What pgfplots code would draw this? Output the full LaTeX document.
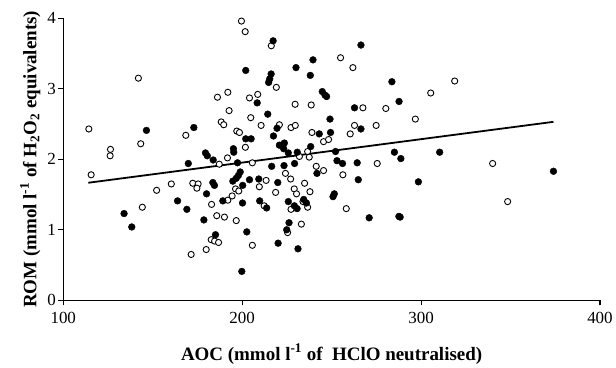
\documentclass[border=0pt]{standalone}
\usepackage{pgfplots}
\pgfplotsset{compat=1.18}
\usepackage{fontspec}
\setmainfont{Liberation Serif}
\begin{document}
\begin{tikzpicture}
\begin{axis}[
  scale only axis,
  width=538bp, height=282.7bp,
  xmin=100, xmax=400, ymin=0, ymax=4,
  axis x line*=bottom, axis y line*=left,
  axis line style={line width=1.1bp},
  xtick={100,200,300,400}, ytick={0,1,2,3,4},
  tick align=outside, major tick length=5bp,
  tick style={line width=1.1bp, black},
  /pgf/number format/assume math mode=true,
  ticklabel style={font=\fontsize{17bp}{20bp}\selectfont},
  xticklabel style={yshift=-3bp},
  yticklabel style={xshift=1bp},
  label style={font=\fontsize{19bp}{22bp}\selectfont\bfseries},
  xlabel={AOC (mmol l\textsuperscript{-1} of\ \ HClO neutralised)},
  ylabel={ROM (mmol l\textsuperscript{-1} of H\textsubscript{2}O\textsubscript{2} equivalents)},
  xlabel style={yshift=-14bp},
  ylabel style={yshift=0bp},
  clip=false,
]
% open circles
\addplot[only marks, mark=*, mark size=3.1bp, mark options={fill=white, draw=black, line width=0.9bp}] coordinates {
(114.3,2.43)(115.6,1.78)(126.4,2.14)(126.2,2.05)(199.6,3.96)(201.7,3.81)(216.3,3.61)
(142.0,3.15)(186.2,2.88)(192.0,2.95)(204.1,2.87)(208.7,2.92)(192.7,2.69)(168.5,2.34)
(188.3,2.53)(189.7,2.49)(204.8,2.59)(210.6,2.48)(197.0,2.40)(198.5,2.38)(143.3,2.22)
(201.8,2.17)(191.8,2.02)(187.2,1.93)(205.7,1.95)(160.4,1.65)(172.4,1.66)(175.4,1.65)
(174.7,1.59)(213.4,1.70)(152.2,1.56)(144.2,1.32)(182.9,1.36)(185.8,1.20)(190.1,1.18)
(196.7,1.13)(182.7,0.86)(184.6,0.84)(186.8,0.82)(179.9,0.72)(171.5,0.65)(205.7,0.78)
(192.0,1.42)(194.4,1.48)(196.3,1.58)(198.1,1.55)(209.6,1.61)(212.3,1.34)(218.7,1.53)
(219.1,3.02)(255.0,3.44)(261.9,3.30)(229.6,2.78)(238.6,2.77)(267.5,2.73)(280.3,2.72)
(296.8,2.57)(220.8,2.49)(227.3,2.45)(229.7,2.48)(239.0,2.38)(262.8,2.48)(274.9,2.48)
(260.4,2.36)(245.5,2.25)(248.3,2.28)(236.6,2.11)(232.0,2.04)(237.5,2.03)(275.5,1.94)
(224.2,1.80)(227.1,1.72)(241.4,1.90)(245.5,1.84)(256.3,1.78)(234.9,1.66)(318.8,3.11)
(305.4,2.94)(340.0,1.94)(348.4,1.40)(229.1,1.58)(230.4,1.51)(237.9,1.54)(227.3,1.29)
(234.0,1.40)(236.6,1.32)(258.2,1.30)(225.4,0.96)(233.1,1.08)
};
% filled circles
\addplot[only marks, mark=*, mark size=3.4bp, mark options={fill=black, draw=black}] coordinates {
(202.0,3.26)(208.4,2.80)(214.3,2.64)(146.5,2.41)(173.0,2.45)(202.0,2.29)(205.0,2.29)
(195.1,2.15)(195.3,2.10)(179.5,2.09)(180.5,2.05)(183.8,1.99)(197.4,1.95)(169.9,1.94)
(198.9,1.82)(197.9,1.77)(194.8,1.69)(183.6,1.67)(204.1,1.71)(209.3,1.72)(184.5,1.63)
(180.1,1.51)(163.9,1.41)(169.1,1.29)(134.0,1.23)(138.3,1.04)(178.6,1.14)(185.1,0.93)
(199.8,0.41)(202.6,0.97)(200.2,1.38)(189.2,1.41)(196.7,1.73)(200.3,1.63)(209.8,1.41)
(213.7,1.31)(216.5,1.90)(219.9,1.67)(220.1,0.81)(217.3,3.68)(216.2,3.21)(215.4,3.14)
(214.8,3.09)(219.5,2.44)(217.5,2.33)(220.8,2.20)(266.4,3.62)(239.6,3.41)(230.1,3.30)
(238.1,3.19)(283.7,3.10)(244.8,2.96)(246.3,2.91)(247.2,2.89)(262.8,2.73)(287.7,2.82)
(249.1,2.57)(249.4,2.38)(243.1,2.36)(266.4,2.43)(221.9,2.20)(223.6,2.23)(223.2,2.15)
(225.8,2.09)(238.3,2.18)(230.8,2.10)(252.2,2.11)(285.1,2.10)(288.7,2.01)(253.0,1.98)
(256.1,1.94)(264.3,1.95)(223.4,1.91)(229.3,1.94)(241.8,1.80)(264.9,1.71)(298.5,1.68)
(310.4,2.10)(374.0,1.83)(288.3,1.18)(225.8,1.40)(229.2,1.34)(230.7,1.30)(234.4,1.43)
(235.9,1.38)(251.5,1.51)(250.8,1.47)(271.0,1.17)(287.6,1.19)(226.2,1.10)(224.9,1.00)
(231.2,0.73)
};
% regression line
\addplot[black, line width=1.8bp] coordinates {(114,1.667)(374,2.531)};
\end{axis}
\path (current axis.south west) ++(-63.4bp,-63bp) rectangle ++(616bp,364bp);
\end{tikzpicture}
\end{document}
